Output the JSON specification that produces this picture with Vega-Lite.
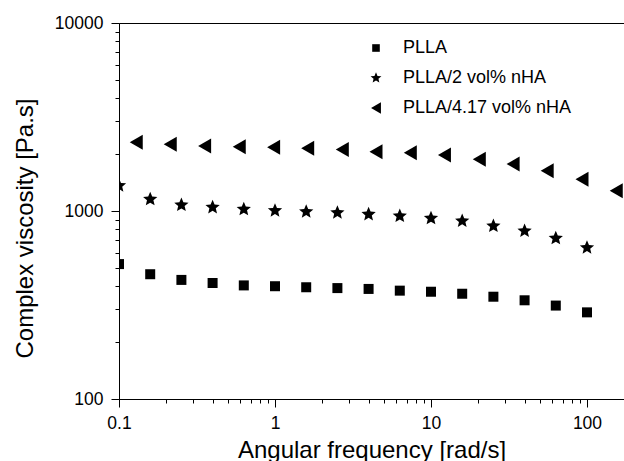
{
  "$schema": "https://vega.github.io/schema/vega-lite/v6.json",
  "width": 505,
  "height": 376,
  "autosize": {"type": "none"},
  "padding": {"left": 119, "top": 23, "right": 0, "bottom": 62},
  "background": "white",
  "config": {
    "view": {"stroke": "black", "strokeWidth": 1},
    "font": "Liberation Sans"
  },
  "data": {
    "values": [
      {"series": "PLLA", "w": 0.1, "eta": 522},
      {"series": "PLLA", "w": 0.1585, "eta": 461},
      {"series": "PLLA", "w": 0.2512, "eta": 430},
      {"series": "PLLA", "w": 0.3981, "eta": 414},
      {"series": "PLLA", "w": 0.631, "eta": 402},
      {"series": "PLLA", "w": 1, "eta": 398},
      {"series": "PLLA", "w": 1.585, "eta": 393},
      {"series": "PLLA", "w": 2.512, "eta": 389},
      {"series": "PLLA", "w": 3.981, "eta": 385},
      {"series": "PLLA", "w": 6.31, "eta": 377},
      {"series": "PLLA", "w": 10, "eta": 372},
      {"series": "PLLA", "w": 15.85, "eta": 363},
      {"series": "PLLA", "w": 25.12, "eta": 350},
      {"series": "PLLA", "w": 39.81, "eta": 335},
      {"series": "PLLA", "w": 63.1, "eta": 314},
      {"series": "PLLA", "w": 100, "eta": 289},
      {"series": "PLLA/2 vol% nHA", "w": 0.1, "eta": 1364},
      {"series": "PLLA/2 vol% nHA", "w": 0.1585, "eta": 1154},
      {"series": "PLLA/2 vol% nHA", "w": 0.2512, "eta": 1076},
      {"series": "PLLA/2 vol% nHA", "w": 0.3981, "eta": 1046},
      {"series": "PLLA/2 vol% nHA", "w": 0.631, "eta": 1021},
      {"series": "PLLA/2 vol% nHA", "w": 1, "eta": 1004},
      {"series": "PLLA/2 vol% nHA", "w": 1.585, "eta": 991},
      {"series": "PLLA/2 vol% nHA", "w": 2.512, "eta": 979},
      {"series": "PLLA/2 vol% nHA", "w": 3.981, "eta": 960},
      {"series": "PLLA/2 vol% nHA", "w": 6.31, "eta": 940},
      {"series": "PLLA/2 vol% nHA", "w": 10, "eta": 915},
      {"series": "PLLA/2 vol% nHA", "w": 15.85, "eta": 885},
      {"series": "PLLA/2 vol% nHA", "w": 25.12, "eta": 832},
      {"series": "PLLA/2 vol% nHA", "w": 39.81, "eta": 783},
      {"series": "PLLA/2 vol% nHA", "w": 63.1, "eta": 716},
      {"series": "PLLA/2 vol% nHA", "w": 100, "eta": 638},
      {"series": "PLLA/4.17 vol% nHA", "w": 0.129, "eta": 2319},
      {"series": "PLLA/4.17 vol% nHA", "w": 0.213, "eta": 2263},
      {"series": "PLLA/4.17 vol% nHA", "w": 0.354, "eta": 2217},
      {"series": "PLLA/4.17 vol% nHA", "w": 0.59, "eta": 2198},
      {"series": "PLLA/4.17 vol% nHA", "w": 0.98, "eta": 2183},
      {"series": "PLLA/4.17 vol% nHA", "w": 1.62, "eta": 2155},
      {"series": "PLLA/4.17 vol% nHA", "w": 2.7, "eta": 2124},
      {"series": "PLLA/4.17 vol% nHA", "w": 4.44, "eta": 2066},
      {"series": "PLLA/4.17 vol% nHA", "w": 7.37, "eta": 2042},
      {"series": "PLLA/4.17 vol% nHA", "w": 12.2, "eta": 1985},
      {"series": "PLLA/4.17 vol% nHA", "w": 20.4, "eta": 1884},
      {"series": "PLLA/4.17 vol% nHA", "w": 33.6, "eta": 1778},
      {"series": "PLLA/4.17 vol% nHA", "w": 55.6, "eta": 1637},
      {"series": "PLLA/4.17 vol% nHA", "w": 92.9, "eta": 1474},
      {"series": "PLLA/4.17 vol% nHA", "w": 154, "eta": 1282}
    ]
  },
  "mark": {"type": "point", "filled": true, "opacity": 1, "clip": true, "size": 225},
  "encoding": {
    "x": {
      "field": "w", "type": "quantitative",
      "scale": {"type": "log", "domain": [0.1, 172.7], "nice": false, "zero": false},
      "axis": {
        "title": "Angular frequency [rad/s]",
        "values": [0.1,0.2,0.3,0.4,0.5,0.6,0.7,0.8,0.9,1,2,3,4,5,6,7,8,9,10,20,30,40,50,60,70,80,90,100],
        "labelExpr": "indexof([0.1,1,10,100], datum.value) >= 0 ? format(datum.value, '~g') : ''",
        "tickSize": {"condition": {"test": "indexof([0.1,1,10,100], datum.value) >= 0", "value": 8}, "value": 4},
        "grid": false,
        "domainColor": "black", "tickColor": "black", "labelColor": "black", "titleColor": "black",
        "labelFont": "Liberation Sans", "labelFontSize": 17.5, "labelPadding": 7,
        "labelFlush": false, "labelOverlap": false,
        "titleFont": "Liberation Sans", "titleFontSize": 24, "titleFontWeight": "normal",
        "titleBaseline": "alphabetic", "titleY": 58
      }
    },
    "y": {
      "field": "eta", "type": "quantitative",
      "scale": {"type": "log", "domain": [100, 10000], "nice": false, "zero": false},
      "axis": {
        "title": "Complex viscosity [Pa.s]",
        "values": [100,200,300,400,500,600,700,800,900,1000,2000,3000,4000,5000,6000,7000,8000,9000,10000],
        "labelExpr": "indexof([100,1000,10000], datum.value) >= 0 ? format(datum.value, 'd') : ''",
        "tickSize": {"condition": {"test": "indexof([100,1000,10000], datum.value) >= 0", "value": 8}, "value": 4},
        "grid": false,
        "domainColor": "black", "tickColor": "black", "labelColor": "black", "titleColor": "black",
        "labelFont": "Liberation Sans", "labelFontSize": 17.5, "labelPadding": 8,
        "labelFlush": false, "labelOverlap": false,
        "titleFont": "Liberation Sans", "titleFontSize": 24, "titleFontWeight": "normal",
        "titleBaseline": "alphabetic", "titleAlign": "center", "titleAngle": -90,
        "titleX": -87, "titleY": 205
      }
    },
    "shape": {
      "field": "series", "type": "nominal",
      "scale": {
        "domain": ["PLLA", "PLLA/2 vol% nHA", "PLLA/4.17 vol% nHA"],
        "range": [
          "M-0.667,-0.667L0.667,-0.667L0.667,0.667L-0.667,0.667Z",
          "M0,-1L0.265,-0.364L0.951,-0.309L0.428,0.139L0.588,0.809L0,0.45L-0.588,0.809L-0.428,0.139L-0.951,-0.309L-0.265,-0.364Z",
          "M-0.867,0L0.867,-1L0.867,1Z"
        ]
      },
      "legend": {
        "title": null,
        "orient": "none",
        "legendX": 248,
        "legendY": 16,
        "padding": 0,
        "rowPadding": 12,
        "labelOffset": 18,
        "labelFont": "Liberation Sans",
        "labelFontSize": 18,
        "labelColor": "black",
        "symbolFillColor": "black",
        "symbolStrokeColor": "black",
        "symbolSize": 130,
        "labelLimit": 300
      }
    },
    "color": {"value": "black"}
  }
}
